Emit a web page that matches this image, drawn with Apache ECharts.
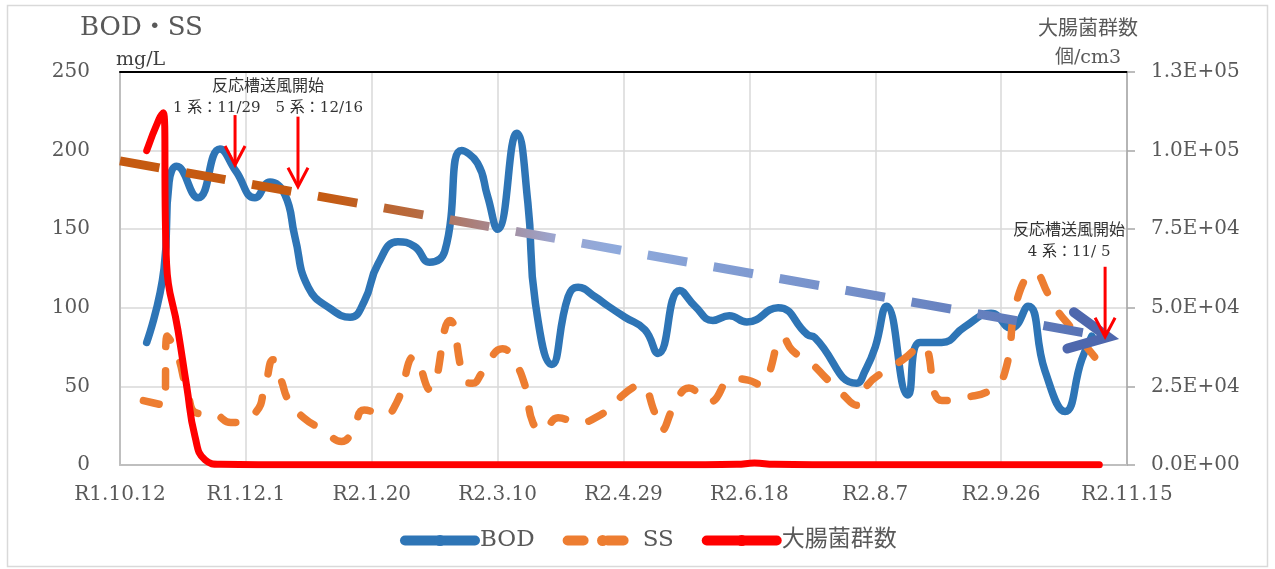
<!DOCTYPE html>
<html><head><meta charset="utf-8">
<script src="https://cdn.jsdelivr.net/npm/echarts@6/dist/echarts.min.js"></script>
<style>html,body{margin:0;padding:0;background:#fff}#c{width:1275px;height:569px}</style>
</head><body><div id="c"></div>
<script>
// ---- data (x = days since R1.10.12) ----
const startDateUTC = Date.UTC(2019, 9, 12);
const bodDays   = [10.6,17.5,19.5,22.5,31,39.7,46,53.6,59.6,65.5,69.5,74.8,84,91.4,97,102.5,110.4,117,123,129,135.7,142,146,150,157.6,162,165,171.5,178,182,188.7,194,200.6,208.5,213.7,222.4,228.4,235.5,242,249,261.4,273,276,292.6,296,300,304.5,313,317.8,326.4,335.6,346,354,360.7,367.4,375.4,382,386];
const bodValues = [78,125,180,190,170,201,187,170,180,172,145,113,99,94,104,128,142,139,129,136,200,192,171,150,211,167,103,64,107,113,107,101,94,86,71,111,101,92,95,91,100,83,81,52,60,75,101,44.5,78,78,88,96.5,87,101,60,34,67,82];

const ssDays   = [9.3,17.5,18.7,22.6,26.6,30.6,37.7,44,53.6,57.6,60.8,64,67,73,81,88,92.5,97,105,110,117,123,131,137,140,144,152,156,161,164,168,174,182,191,196.6,204.5,207,212.5,215,220,226,234,243.5,249.5,255,257,263.5,267,275,280,287,292.7,297,303,311,318.5,326.5,336,346,351.5,356.7,363.4,368.6,372,378.5,384,389];
const ssValues = [41,38,82,71,48,33,32,27,33,50,67,54,41,30,22,15,22,35,32,40,69,48,92,54,52,59,74,68,50,27,22,30,27,32,40,50,51,33,22,37,49,40,55,54,51,55,81,73,64,56,45,38,51,59,67,76,41,43,48,59,107,122,109,99,86,75,65];

const coliDays   = [10.6,15.5,17.2,18.5,23,26.5,29.8,33.8,40,70,100,130,160,190,220,245,252,260,290,320,350,389];
const coliValues = [100000,110000,112000,64000,43000,25000,9000,1600,200,100,100,100,100,100,100,200,600,200,100,100,100,100];

const trendDays   = [0, 392.4];
const trendValues = [193.5, 81.4];

// annotation arrows (day, and top/tip heights in BOD axis units)
const arrowDays = [45.7, 70.7, 391.3];
const arrowTop  = [222.6, 221.6, 126.1];
const arrowTip  = [190.8, 177.0, 81.6];
const noteTexts = [['反応槽送風開始', '1 系：11/29　5 系：12/16'], ['反応槽送風開始', '4 系：11/ 5']];
const noteDays  = [58.8, 377];
const noteVals  = [[240.4, 227.0], [149.2, 135.5]];

const xMin = 0, xMax = 400, xInterval = 50;
const yMax = 250, yInterval = 50;
const y2Max = 125000, y2Interval = 25000;

function zip(a, b) { return a.map((d, i) => [d, b[i]]); }
function dayToLabel(d) {
  const dt = new Date(startDateUTC + Math.round(d) * 86400000);
  return 'R' + (dt.getUTCFullYear() - 2018) + '.' + (dt.getUTCMonth() + 1) + '.' + dt.getUTCDate();
}
function sci(v) {
  if (v === 0) return '0.0E+00';
  const e = Math.floor(Math.log10(v));
  const m = v / Math.pow(10, e);
  return m.toFixed(1) + 'E+' + String(e).padStart(2, '0');
}

const SERIF = "'DejaVu Serif','Noto Sans CJK JP',serif";
const chart = echarts.init(document.getElementById('c'), null, {renderer: 'canvas'});

const option = {
  animation: false,
  backgroundColor: '#fff',
  grid: {left: 120, right: 148, top: 72, bottom: 104},
  legend: {
    left: 395, top: 524, itemWidth: 70, itemHeight: 14, itemGap: 28,
    textStyle: {fontFamily: SERIF, fontSize: 23, color: '#595959'},
    lineStyle: {width: 10, cap: 'round'},
    data: ['BOD', 'SS', '大腸菌群数']
  },
  xAxis: [{
    type: 'value', min: xMin, max: xMax, interval: xInterval,
    axisLine: {show: true, onZero: false, lineStyle: {color: '#BFBFBF', width: 2}},
    axisTick: {show: false},
    splitLine: {show: true, lineStyle: {color: '#D9D9D9', width: 1.5}},
    axisLabel: {formatter: dayToLabel, fontFamily: SERIF, fontSize: 20, color: '#595959', margin: 20}
  }, {
    type: 'value', position: 'top', min: xMin, max: xMax,
    axisLine: {show: true, onZero: false, lineStyle: {color: '#000', width: 2}},
    axisTick: {show: false}, axisLabel: {show: false}, splitLine: {show: false}
  }],
  yAxis: [{
    type: 'value', min: 0, max: yMax, interval: yInterval,
    axisLine: {show: true, onZero: false, lineStyle: {color: '#BFBFBF', width: 2}},
    axisTick: {show: false},
    splitLine: {show: true, lineStyle: {color: '#D9D9D9', width: 1.5}},
    axisLabel: {fontFamily: SERIF, fontSize: 20, color: '#595959', margin: 30}
  }, {
    type: 'value', position: 'right', min: 0, max: y2Max, interval: y2Interval,
    axisLine: {show: true, onZero: false, lineStyle: {color: '#A6A6A6', width: 1.5}},
    axisTick: {show: true, inside: false, length: 8, lineStyle: {color: '#A6A6A6', width: 1.5}},
    splitLine: {show: false},
    axisLabel: {formatter: sci, fontFamily: SERIF, fontSize: 20, color: '#595959', margin: 24}
  }],
  series: [{
    name: 'BOD', type: 'line', data: zip(bodDays, bodValues), smooth: 0.5,
    symbol: 'none', z: 2,
    lineStyle: {color: '#2E75B6', width: 7.5, cap: 'round', join: 'round'}, itemStyle: {color: '#2E75B6'}
  }, {
    name: 'SS', type: 'line', data: zip(ssDays, ssValues), smooth: 0.5,
    symbol: 'none', z: 3,
    lineStyle: {color: '#ED7D31', width: 7.5, type: [16, 24], cap: 'round', join: 'round'}, itemStyle: {color: '#ED7D31'}
  }, {
    name: '大腸菌群数', type: 'line', yAxisIndex: 1, data: zip(coliDays, coliValues), smooth: 0.5,
    symbol: 'none', z: 4,
    lineStyle: {color: '#FF0000', width: 7, cap: 'round', join: 'round'}, itemStyle: {color: '#FF0000'}
  }, {
    name: 'trend', type: 'line', data: zip(trendDays, trendValues), symbol: 'none', z: 5, silent: true,
    lineStyle: {
      width: 9, type: [40, 27], cap: 'butt',
      color: {type: 'linear', x: 0, y: 0, x2: 1, y2: 0, colorStops: [
        {offset: 0, color: '#C55A11'}, {offset: 0.21, color: '#C55A11'},
        {offset: 0.30, color: '#B76A3F'}, {offset: 0.37, color: '#A88386'},
        {offset: 0.44, color: '#9CA5CF'}, {offset: 0.50, color: '#8FAADC'},
        {offset: 1, color: '#5570B3'}]}
    }
  }]
};
chart.setOption(option);

function px(d, v, yi) { return chart.convertToPixel({xAxisIndex: 0, yAxisIndex: yi || 0}, [d, v]); }

const g = [];
g.push({type: 'rect', shape: {x: 7.5, y: 5.5, width: 1260, height: 561}, style: {fill: 'none', stroke: '#D9D9D9', lineWidth: 1.5}, z: -10});
g.push({type: 'text', x: 80, y: 28, style: {text: 'BOD・SS', font: "26px " + SERIF, fill: '#595959', align: 'left', verticalAlign: 'middle', textAlign: 'left', textVerticalAlign: 'middle'}});
g.push({type: 'text', x: 116, y: 60, style: {text: 'mg/L', font: "19px " + SERIF, fill: '#404040', align: 'left', verticalAlign: 'middle', textAlign: 'left', textVerticalAlign: 'middle'}});
g.push({type: 'text', x: 1088, y: 30, style: {text: '大腸菌群数', font: "20px " + SERIF, fill: '#595959', align: 'center', verticalAlign: 'middle', textAlign: 'center', textVerticalAlign: 'middle'}});
g.push({type: 'text', x: 1088, y: 58, style: {text: '個/cm3', font: "19px " + SERIF, fill: '#595959', align: 'center', verticalAlign: 'middle', textAlign: 'center', textVerticalAlign: 'middle'}});

arrowDays.forEach((d, i) => {
  const a = px(d, arrowTop[i]), b = px(d, arrowTip[i]);
  g.push({type: 'line', shape: {x1: a[0], y1: a[1], x2: b[0], y2: b[1] - 2}, style: {stroke: '#FF0000', lineWidth: 3}, z: 20});
  g.push({type: 'polyline', shape: {points: [[b[0] - 10, b[1] - 19], [b[0], b[1]], [b[0] + 10, b[1] - 19]]}, style: {stroke: '#FF0000', lineWidth: 3, fill: 'none', lineJoin: 'miter'}, z: 20});
});
noteTexts.forEach((lines, i) => {
  lines.forEach((t, j) => {
    const p = px(noteDays[i], noteVals[i][j]);
    g.push({type: 'text', x: p[0], y: p[1], z: 20, style: {text: t, font: (j === 0 ? '16px ' : '15px ') + SERIF, fill: '#333333', align: 'center', verticalAlign: 'middle', textAlign: 'center', textVerticalAlign: 'middle'}});
  });
});
(function () {
  const s = px(trendDays[0], trendValues[0]), e = px(trendDays[1], trendValues[1]);
  const dx = e[0] - s[0], dy = e[1] - s[1], L = Math.hypot(dx, dy);
  const ux = -dx / L, uy = -dy / L, ang = 26 * Math.PI / 180, len = 42;
  const r = (a) => [e[0] + len * (ux * Math.cos(a) - uy * Math.sin(a)), e[1] + len * (ux * Math.sin(a) + uy * Math.cos(a))];
  g.push({type: 'polyline', shape: {points: [r(ang), e, r(-ang)]}, style: {stroke: '#4E67AD', lineWidth: 10, fill: 'none', lineJoin: 'miter', lineCap: 'round'}, z: 19});
})();
chart.setOption({graphic: g});
</script>
</body></html>
